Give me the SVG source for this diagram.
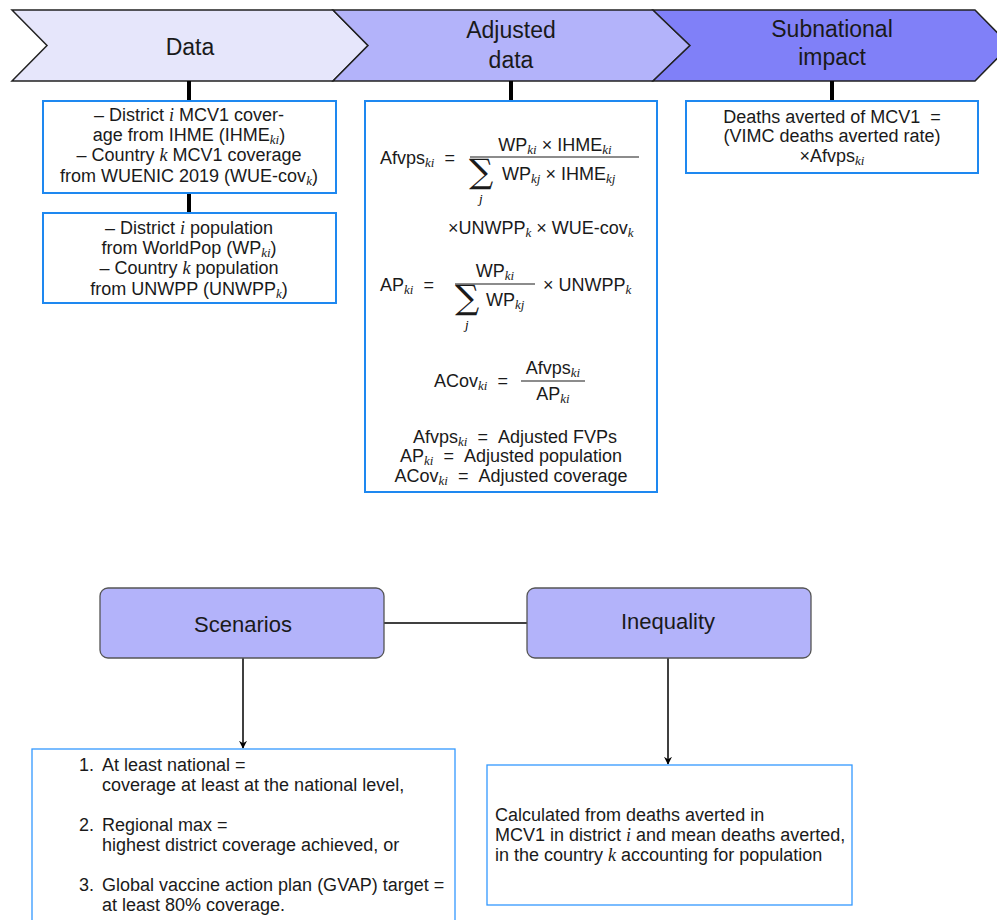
<svg xmlns="http://www.w3.org/2000/svg" width="997" height="920" viewBox="0 0 997 920">
<defs>
<style>
.t{font-family:"Liberation Sans",Arial,sans-serif;font-size:18px;fill:#1a1a1a}
.title{font-family:"Liberation Sans",Arial,sans-serif;font-size:23px;fill:#1a1a1a;text-anchor:middle}
.mi{font-family:"Liberation Serif","Times New Roman",serif;font-style:italic}
.sub{font-family:"Liberation Serif","Times New Roman",serif;font-style:italic;font-size:13px}
.box{fill:#fff;stroke:#1e88f0;stroke-width:2}
.box2{fill:#fff;stroke:#3399ff;stroke-width:1.3}
.rbox{fill:#b3b3fa;stroke:#555;stroke-width:1.3}
.thick{stroke:#000;stroke-width:4;fill:none}
.thin{stroke:#000;stroke-width:1.5;fill:none}
.bar{stroke:#1a1a1a;stroke-width:1.1}
.sig{font-family:"DejaVu Serif",serif;font-size:34px;fill:#1a1a1a}
.c{text-anchor:middle}
</style>
<marker id="arr" viewBox="0 0 10 10" refX="9" refY="5" markerWidth="8" markerHeight="8" orient="auto" markerUnits="userSpaceOnUse">
<path d="M0,0 L10,5 L0,10 L3,5 Z" fill="#000"/>
</marker>
</defs>

<g id="chevron-data">
<polygon points="12,10 333,10 368,45.5 333,81 12,81 47,45.5" fill="#e6e6fb" stroke="#222" stroke-width="1.5"/>
<text class="title" x="190" y="55">Data</text>
</g>
<g id="chevron-adjusted">
<polygon points="333,10 653,10 690,45.5 653,81 333,81 368,45.5" fill="#b3b3fa" stroke="#222" stroke-width="1.5"/>
<text class="title" x="511" y="38">Adjusted</text>
<text class="title" x="511" y="68">data</text>
</g>
<g id="chevron-subnational">
<polygon points="653,10 975,10 1010,45.5 975,81 653,81 690,45.5" fill="#8080f8" stroke="#222" stroke-width="1.5"/>
<text class="title" x="832" y="37">Subnational</text>
<text class="title" x="832" y="65">impact</text>
</g>

<g id="connectors">
<line class="thick" x1="189" y1="81" x2="189" y2="101"/>
<line class="thick" x1="189" y1="193" x2="189" y2="213"/>
<line class="thick" x1="511" y1="81" x2="511" y2="101"/>
<line class="thick" x1="832" y1="81" x2="832" y2="101"/>
<line class="thin" x1="384" y1="623" x2="527" y2="623"/>
<line class="thin" x1="243" y1="658" x2="243" y2="748" marker-end="url(#arr)"/>
<line class="thin" x1="668" y1="658" x2="668" y2="764" marker-end="url(#arr)"/>
</g>

<g id="data-coverage">
<rect class="box" x="43" y="101" width="293" height="92"/>
<text class="t c" x="189" y="121">– District <tspan class="mi">i</tspan> MCV1 cover-</text>
<text class="t c" x="189" y="141">age from IHME (IHME<tspan class="sub" dy="3">ki</tspan><tspan dy="-3">)</tspan></text>
<text class="t c" x="189" y="161">– Country <tspan class="mi">k</tspan> MCV1 coverage</text>
<text class="t c" x="189" y="182">from WUENIC 2019 (WUE-cov<tspan class="sub" dy="3">k</tspan><tspan dy="-3">)</tspan></text>
</g>

<g id="data-population">
<rect class="box" x="43" y="213" width="293" height="90"/>
<text class="t c" x="189" y="234">– District <tspan class="mi">i</tspan> population</text>
<text class="t c" x="189" y="254">from WorldPop (WP<tspan class="sub" dy="3">ki</tspan><tspan dy="-3">)</tspan></text>
<text class="t c" x="189" y="274">– Country <tspan class="mi">k</tspan> population</text>
<text class="t c" x="189" y="295">from UNWPP (UNWPP<tspan class="sub" dy="3">k</tspan><tspan dy="-3">)</tspan></text>
</g>

<g id="adjusted-data">
<rect class="box" x="365" y="101" width="292" height="391"/>
<text class="t" x="380" y="164">Afvps<tspan class="sub" dy="3">ki</tspan><tspan dy="-3">&#160;&#160;=</tspan></text>
<text class="t c" x="555" y="151">WP<tspan class="sub" dy="3">ki</tspan><tspan dy="-3"> × IHME</tspan><tspan class="sub" dy="3">ki</tspan></text>
<line class="bar" x1="470" y1="157" x2="639" y2="157"/>
<text class="sig" x="469" y="183">∑</text>
<text class="sub" x="479" y="203">j</text>
<text class="t" x="502" y="180">WP<tspan class="sub" dy="3">kj</tspan><tspan dy="-3"> × IHME</tspan><tspan class="sub" dy="3">kj</tspan></text>
<text class="t" x="448" y="234">×UNWPP<tspan class="sub" dy="3">k</tspan><tspan dy="-3"> × WUE-cov</tspan><tspan class="sub" dy="3">k</tspan></text>

<text class="t" x="380" y="291">AP<tspan class="sub" dy="3">ki</tspan><tspan dy="-3">&#160;&#160;=</tspan></text>
<text class="t c" x="495" y="277">WP<tspan class="sub" dy="3">ki</tspan></text>
<line class="bar" x1="455" y1="284" x2="535" y2="284"/>
<text class="sig" x="455" y="309">∑</text>
<text class="sub" x="465" y="329">j</text>
<text class="t" x="486" y="306">WP<tspan class="sub" dy="3">kj</tspan></text>
<text class="t" x="543" y="291">× UNWPP<tspan class="sub" dy="3">k</tspan></text>

<text class="t" x="434" y="387">ACov<tspan class="sub" dy="3">ki</tspan><tspan dy="-3">&#160;&#160;=</tspan></text>
<text class="t c" x="553" y="374">Afvps<tspan class="sub" dy="3">ki</tspan></text>
<line class="bar" x1="521" y1="381" x2="585" y2="381"/>
<text class="t c" x="553" y="400">AP<tspan class="sub" dy="3">ki</tspan></text>

<text class="t c" x="515" y="443">Afvps<tspan class="sub" dy="3">ki</tspan><tspan dy="-3">&#160;&#160;=&#160;&#160;Adjusted FVPs</tspan></text>
<text class="t c" x="511" y="462">AP<tspan class="sub" dy="3">ki</tspan><tspan dy="-3">&#160;&#160;=&#160;&#160;Adjusted population</tspan></text>
<text class="t c" x="511" y="482">ACov<tspan class="sub" dy="3">ki</tspan><tspan dy="-3">&#160;&#160;=&#160;&#160;Adjusted coverage</tspan></text>
</g>

<g id="subnational-impact">
<rect class="box" x="686" y="101" width="292" height="72"/>
<text class="t c" x="832" y="123">Deaths averted of MCV1&#160;&#160;=</text>
<text class="t c" x="832" y="142">(VIMC deaths averted rate)</text>
<text class="t c" x="832" y="162">×Afvps<tspan class="sub" dy="3">ki</tspan></text>
</g>

<g id="scenarios">
<rect class="rbox" x="100" y="588" width="284" height="70" rx="8"/>
<text class="title" x="243" y="632" style="font-size:22px">Scenarios</text>
</g>

<g id="inequality">
<rect class="rbox" x="527" y="588" width="284" height="70" rx="8"/>
<text class="title" x="668" y="629" style="font-size:22px">Inequality</text>
</g>

<g id="scenarios-list">
<rect class="box2" x="32" y="749" width="423" height="180"/>
<text class="t" x="94" y="771" text-anchor="end">1.</text>
<text class="t" x="102" y="771">At least national =</text>
<text class="t" x="102" y="791">coverage at least at the national level,</text>
<text class="t" x="94" y="831" text-anchor="end">2.</text>
<text class="t" x="102" y="831">Regional max =</text>
<text class="t" x="102" y="851">highest district coverage achieved, or</text>
<text class="t" x="94" y="891" text-anchor="end">3.</text>
<text class="t" x="102" y="891">Global vaccine action plan (GVAP) target =</text>
<text class="t" x="102" y="911">at least 80% coverage.</text>
</g>

<g id="inequality-text">
<rect class="box2" x="487" y="765" width="365" height="140"/>
<text class="t" x="495" y="821">Calculated from deaths averted in</text>
<text class="t" x="495" y="841">MCV1 in district <tspan class="mi">i</tspan> and mean deaths averted,</text>
<text class="t" x="495" y="861">in the country <tspan class="mi">k</tspan> accounting for population</text>
</g>
</svg>
